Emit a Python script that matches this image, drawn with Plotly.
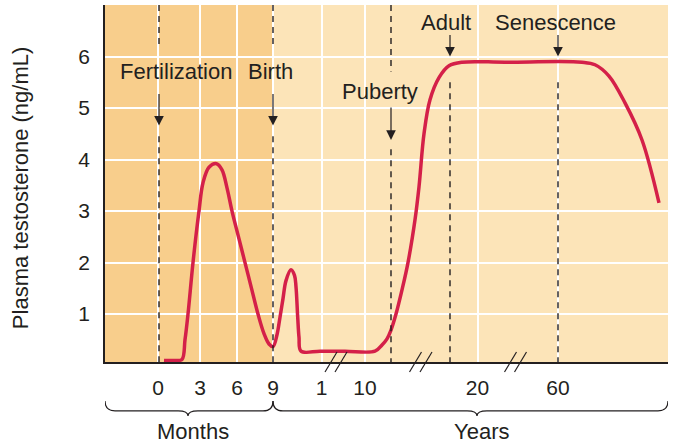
import plotly.graph_objects as go

# ---- data (x in axis position units along the broken time axis) ----
tick_pos = [53, 95, 132, 168, 216.5, 260, 372.5, 453]
tick_text = ["0", "3", "6", "9", "1", "10", "20", "60"]

curve_x = [59, 70, 77, 80, 83, 88, 94, 98, 104, 111.5, 117, 122, 127, 133.5, 140, 146.5, 153, 159, 164, 168,
           172, 175, 178, 181, 186, 189.5, 191, 192.7, 194, 196, 215, 240, 270,
           277, 282, 286, 291, 297, 303, 310, 314, 319, 325, 334, 344, 357, 400, 477,
           490, 504, 520, 537, 554]
curve_y = [0.1, 0.1, 0.12, 0.5, 1.0, 2.0, 3.0, 3.55, 3.85, 3.92, 3.8, 3.45, 3.0, 2.5, 2.0, 1.5, 1.0, 0.62, 0.42, 0.37,
           0.6, 0.94, 1.3, 1.65, 1.86, 1.75, 1.53, 0.94, 0.55, 0.28, 0.28, 0.28, 0.28,
           0.4, 0.52, 0.69, 1.0, 1.47, 2.0, 2.83, 3.47, 4.5, 5.16, 5.59, 5.82, 5.89, 5.89, 5.89,
           5.84, 5.62, 5.1, 4.38, 3.16]

events = ["Fertilization", "Birth", "Puberty", "Adult", "Senescence"]
event_x = [54, 168, 286, 345, 453]
break_x = [226, 236, 310.5, 321, 405.5, 415.5]
periods = ["Months", "Years"]

DARK = "#F8CE8C"
LIGHT = "#FCE4B8"
INK = "#231F20"
RED = "#D42049"
FONT = "Liberation Sans, Arial, sans-serif"

YMIN, YMAX = 0.07, 7.0
XMAX = 563

fig = go.Figure()
fig.add_trace(go.Scatter(x=curve_x, y=curve_y, mode="lines",
                         line=dict(color=RED, width=3.5, shape="spline", smoothing=1.0),
                         hoverinfo="skip", showlegend=False))

shapes = []
# background regions
shapes.append(dict(type="rect", xref="x", yref="paper", x0=0, x1=event_x[1], y0=0, y1=1,
                   fillcolor=DARK, line=dict(width=0), layer="below"))
shapes.append(dict(type="rect", xref="x", yref="paper", x0=event_x[1], x1=XMAX, y0=0, y1=1,
                   fillcolor=LIGHT, line=dict(width=0), layer="below"))

# dashed event lines (segments leave room for labels/arrows)
seg = {
    0: [(YMAX, 6.23), (4.45, YMIN)],
    1: [(YMAX, 6.23), (4.45, YMIN)],
    2: [(YMAX, 5.71), (4.2, YMIN)],
    3: [(5.5, YMIN)],
    4: [(5.5, YMIN)],
}
for i, xs in enumerate(event_x):
    for (a, b) in seg[i]:
        shapes.append(dict(type="line", xref="x", yref="y", x0=xs, x1=xs, y0=a, y1=b,
                           line=dict(color=INK, width=1.4, dash="6px,5px")))

# axis break marks
for bx in break_x:
    shapes.append(dict(type="line", xref="x", yref="paper", xsizemode="pixel", ysizemode="pixel",
                       xanchor=bx, yanchor=0, x0=-6, x1=6, y0=-10, y1=10,
                       line=dict(color=INK, width=1.2)))

# braces
top, mid, bot = -0.109, -0.137, -0.151
def brace(x0, x1, c, r=10):
    return (f"M {x0},{top} Q {x0},{mid} {x0 + r},{mid} L {c - r},{mid} "
            f"Q {c},{mid} {c},{bot} Q {c},{mid} {c + r},{mid} L {x1 - r},{mid} "
            f"Q {x1},{mid} {x1},{top}")
shapes.append(dict(type="path", xref="x", yref="paper", path=brace(0, event_x[1], 83),
                   line=dict(color=INK, width=1.2)))
shapes.append(dict(type="path", xref="x", yref="paper", path=brace(event_x[1], XMAX, 372),
                   line=dict(color=INK, width=1.2)))

annotations = []
label_pos = [(71, 5.71), (165, 5.71), (275, 5.32), (340.5, 6.66), (450.5, 6.66)]
arrow_tip = [(4.66, -33), (4.66, -33), (4.38, -34), (6.0, -23), (6.0, -23)]
for i, name in enumerate(events):
    lx, ly = label_pos[i]
    annotations.append(dict(x=lx, y=ly, xref="x", yref="y", text=name, showarrow=False,
                            font=dict(family=FONT, size=22, color=INK),
                            xanchor="center", yanchor="middle"))
    ty, ay = arrow_tip[i]
    annotations.append(dict(x=event_x[i], y=ty, xref="x", yref="y", text="", showarrow=True,
                            ax=0, ay=ay, arrowhead=2, arrowsize=1.6, arrowwidth=1.2,
                            arrowcolor=INK, standoff=0))

annotations.append(dict(x=88, y=-0.196, xref="x", yref="paper", text=periods[0], showarrow=False,
                        font=dict(family=FONT, size=22, color=INK), xanchor="center", yanchor="middle"))
annotations.append(dict(x=376, y=-0.196, xref="x", yref="paper", text=periods[1], showarrow=False,
                        font=dict(family=FONT, size=22, color=INK), xanchor="center", yanchor="middle"))
annotations.append(dict(x=-0.151, y=0.487, xref="paper", yref="paper",
                        text="Plasma testosterone (ng/mL)", textangle=-90, showarrow=False,
                        font=dict(family=FONT, size=22, color=INK), xanchor="center", yanchor="middle"))

fig.update_layout(
    width=684, height=448,
    margin=dict(l=105, r=16, t=5, b=86),
    paper_bgcolor="white", plot_bgcolor=LIGHT,
    shapes=shapes, annotations=annotations,
    showlegend=False,
    xaxis=dict(range=[0, XMAX], tickvals=tick_pos, ticktext=tick_text,
               showgrid=True, gridcolor="white", gridwidth=1.5,
               showline=True, linecolor=INK, linewidth=1.5,
               ticks="", ticklabelstandoff=6, zeroline=False,
               tickfont=dict(family=FONT, size=21, color=INK), fixedrange=True),
    yaxis=dict(range=[YMIN, YMAX], tickvals=[1, 2, 3, 4, 5, 6],
               showgrid=True, gridcolor="white", gridwidth=1.5,
               showline=True, linecolor=INK, linewidth=1.5,
               ticks="", ticklabelstandoff=9, zeroline=False,
               tickfont=dict(family=FONT, size=21, color=INK), fixedrange=True),
)

fig.write_html("out.html")
